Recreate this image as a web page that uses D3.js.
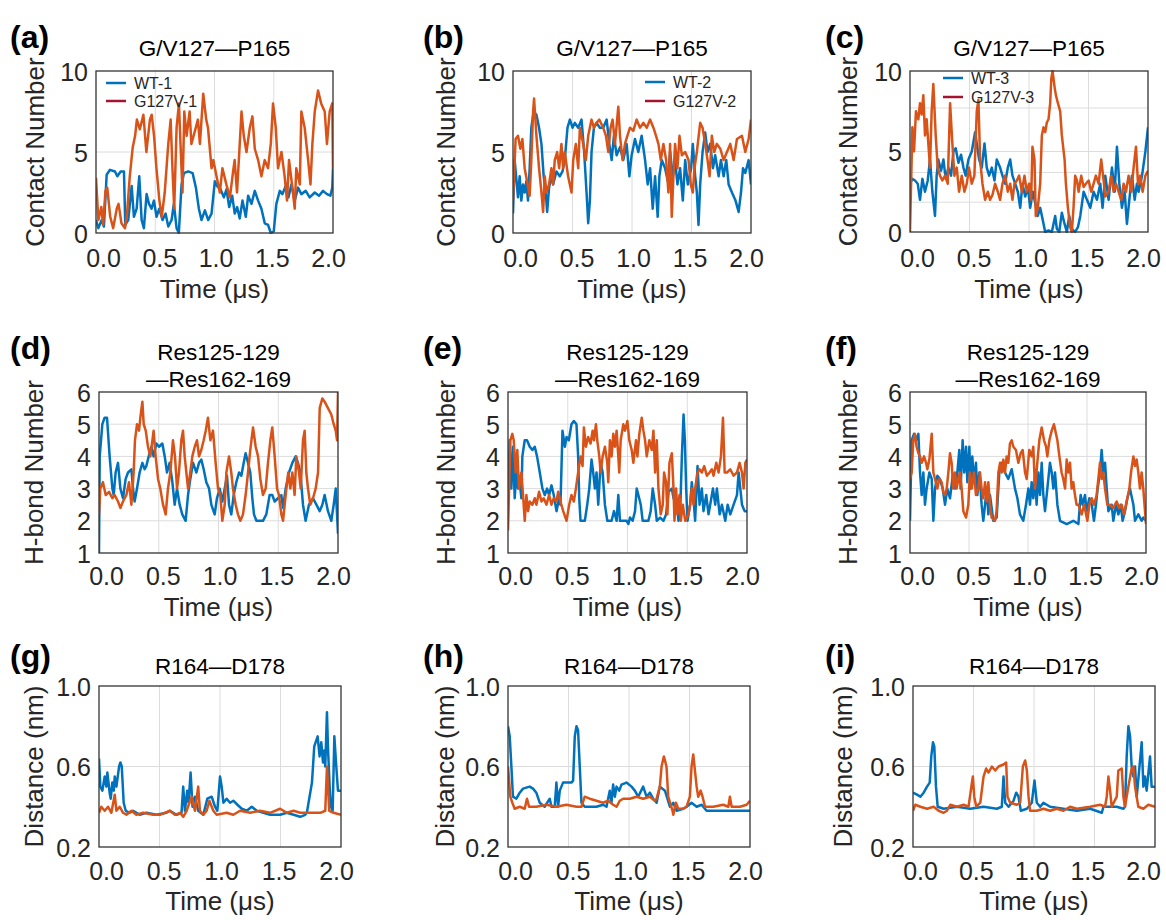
<!DOCTYPE html>
<html><head><meta charset="utf-8">
<script src="https://cdn.jsdelivr.net/npm/d3@7"></script>
<style>
body{margin:0;background:#fff}
svg{display:block}
text{font-family:"Liberation Sans",Arial,Helvetica,sans-serif}
</style>
</head><body>
<svg id="chart" width="1166" height="920"></svg>
<script>
// ---------------- DATA ----------------
const xTicks = [0, 0.5, 1.0, 1.5, 2.0];
const contactTicks = [0, 5, 10];
const hbondTicks = [1, 2, 3, 4, 5, 6];
const distTicks = [0.2, 0.6, 1.0];
const seriesNames = ["WT", "G127V"];
const legendA = ["WT-1", "G127V-1"];
const legendB = ["WT-2", "G127V-2"];
const legendC = ["WT-3", "G127V-3"];
const titleContact = ["G/V127\u2014P165"];
const titleHbond = ["Res125-129", "\u2014Res162-169"];
const titleDist = ["R164\u2014D178"];
const cExtraGrid = [7.7, 3.7, 1.85];

const a_WT = [[0,0.8],[0.020,0.3],[0.048,0.8],[0.067,0.4],[0.090,3.6],[0.118,3.9],[0.160,3.8],[0.180,3.5],[0.208,3.8],[0.236,3.8],[0.247,0.5],[0.272,0.8],[0.301,2.9],[0.320,1.0],[0.343,1.5],[0.365,3.5],[0.385,0.8],[0.404,0.3],[0.427,2.4],[0.447,1.8],[0.469,1.5],[0.489,2.0],[0.511,1.0],[0.534,1.5],[0.562,0.8],[0.587,1.2],[0.610,0.4],[0.638,0.8],[0.657,1.8],[0.680,0.3],[0.699,0.0],[0.722,3.0],[0.742,3.7],[0.778,3.8],[0.815,3.7],[0.843,2.8],[0.868,1.5],[0.890,0.8],[0.919,1.4],[0.947,0.8],[0.975,1.2],[1.003,3.2],[1.022,2.9],[1.051,2.7],[1.079,2.2],[1.101,2.7],[1.124,1.6],[1.149,2.3],[1.171,1.2],[1.191,1.6],[1.213,0.9],[1.236,2.0],[1.264,1.0],[1.284,2.3],[1.312,1.8],[1.340,2.6],[1.368,2.0],[1.396,1.5],[1.424,0.6],[1.452,0.5],[1.475,0.0],[1.500,0.1],[1.522,1.8],[1.551,2.6],[1.573,2.4],[1.601,2.9],[1.624,2.2],[1.649,3.0],[1.677,2.0],[1.705,2.8],[1.733,2.4],[1.770,2.6],[1.803,2.2],[1.846,2.5],[1.882,2.3],[1.916,2.6],[1.949,2.4],[1.978,2.3],[1.994,2.8],[2.0,4.0]];
const a_G127V = [[0,3.4],[0.02,0.8],[0.045,1.6],[0.06,0.5],[0.08,2.6],[0.095,2.8],[0.12,1.0],[0.145,0.3],[0.175,1.5],[0.19,1.8],[0.215,0.6],[0.245,0.3],[0.26,1.0],[0.285,3.5],[0.31,5.3],[0.33,6.0],[0.345,7.0],[0.37,6.4],[0.40,7.3],[0.425,5.0],[0.455,7.0],[0.47,7.3],[0.49,6.0],[0.51,4.0],[0.535,2.0],[0.555,1.0],[0.58,2.5],[0.61,5.5],[0.63,7.0],[0.645,4.0],[0.66,1.5],[0.68,6.5],[0.70,8.0],[0.713,5.5],[0.73,2.5],[0.745,7.5],[0.765,6.0],[0.79,7.5],[0.805,5.5],[0.835,6.3],[0.86,7.0],[0.877,5.5],[0.905,8.6],[0.93,7.0],[0.945,6.5],[0.975,4.0],[0.99,4.5],[1.017,3.5],[1.045,2.5],[1.067,4.0],[1.10,3.0],[1.13,2.2],[1.157,3.8],[1.17,4.5],[1.19,2.5],[1.213,5.5],[1.228,7.5],[1.247,6.0],[1.27,5.0],[1.298,6.5],[1.32,7.2],[1.34,5.2],[1.368,4.5],[1.396,3.5],[1.424,4.5],[1.452,4.0],[1.475,5.5],[1.494,8.0],[1.517,6.5],[1.536,4.0],[1.565,5.0],[1.592,3.5],[1.612,2.0],[1.629,4.5],[1.654,3.0],[1.677,1.5],[1.69,4.0],[1.72,3.0],[1.733,7.5],[1.761,6.5],[1.79,4.5],[1.81,3.0],[1.826,5.5],[1.846,7.5],[1.874,8.8],[1.90,8.0],[1.93,7.5],[1.949,5.5],[1.972,7.5],[1.994,8.0],[2.0,4.0]];

const b_WT = [[0,1.2],[0.014,4.5],[0.042,2.2],[0.056,3.5],[0.070,2.0],[0.084,3.0],[0.098,2.5],[0.112,3.2],[0.126,2.0],[0.140,4.0],[0.154,6.5],[0.174,7.5],[0.197,7.3],[0.219,6.5],[0.239,5.5],[0.258,3.5],[0.275,2.5],[0.287,1.3],[0.303,2.8],[0.323,3.5],[0.337,3.0],[0.365,3.8],[0.393,3.5],[0.416,3.8],[0.435,4.5],[0.458,6.5],[0.478,7.0],[0.500,6.5],[0.520,6.8],[0.548,6.5],[0.576,7.0],[0.598,5.0],[0.618,2.5],[0.632,0.6],[0.646,2.0],[0.660,5.0],[0.680,6.5],[0.702,6.8],[0.730,6.5],[0.758,6.5],[0.787,7.0],[0.809,5.5],[0.829,4.5],[0.848,6.0],[0.871,4.8],[0.899,5.3],[0.927,4.5],[0.955,5.5],[0.978,3.5],[0.997,4.8],[1.025,5.8],[1.053,5.0],[1.081,6.0],[1.110,4.5],[1.132,3.0],[1.152,4.0],[1.174,1.5],[1.194,3.5],[1.216,1.0],[1.230,3.5],[1.250,4.5],[1.278,4.0],[1.301,3.2],[1.320,5.0],[1.343,3.5],[1.362,4.5],[1.382,3.0],[1.404,4.0],[1.427,2.0],[1.447,4.5],[1.469,3.0],[1.497,4.0],[1.511,5.5],[1.531,3.5],[1.545,2.5],[1.559,0.5],[1.573,3.0],[1.593,5.0],[1.615,6.2],[1.635,5.0],[1.657,5.5],[1.680,4.0],[1.699,4.8],[1.728,3.5],[1.747,4.5],[1.770,3.5],[1.792,4.5],[1.812,3.0],[1.840,2.5],[1.870,2.0],[1.896,1.3],[1.916,2.5],[1.933,4.0],[1.952,3.7],[1.980,4.5],[2.0,3.0]];
const b_G127V = [[0,2.0],[0.022,5.8],[0.042,6.0],[0.062,5.2],[0.079,5.8],[0.098,4.0],[0.118,3.2],[0.140,2.3],[0.154,4.5],[0.169,7.5],[0.177,8.3],[0.197,6.0],[0.219,4.0],[0.239,2.5],[0.253,1.3],[0.267,3.5],[0.281,2.5],[0.303,3.0],[0.323,4.0],[0.337,3.0],[0.351,4.5],[0.371,5.0],[0.388,4.0],[0.407,5.5],[0.421,4.0],[0.435,5.0],[0.463,3.5],[0.492,2.5],[0.506,4.5],[0.528,5.5],[0.548,4.0],[0.562,6.5],[0.590,5.5],[0.612,4.5],[0.632,6.0],[0.660,7.0],[0.680,6.5],[0.702,6.8],[0.725,7.0],[0.758,6.5],[0.781,6.0],[0.801,5.0],[0.820,6.5],[0.837,7.0],[0.857,5.5],[0.885,7.8],[0.899,6.0],[0.921,4.5],[0.941,5.5],[0.961,6.0],[0.983,6.5],[1.011,6.3],[1.039,7.0],[1.067,6.5],[1.096,6.8],[1.124,6.5],[1.152,7.0],[1.180,6.5],[1.202,6.0],[1.222,5.5],[1.242,4.5],[1.264,5.5],[1.287,4.5],[1.306,2.5],[1.320,5.5],[1.334,1.0],[1.348,3.5],[1.362,5.5],[1.382,4.0],[1.399,6.0],[1.419,4.8],[1.447,5.0],[1.475,4.5],[1.494,3.0],[1.511,2.5],[1.525,4.0],[1.545,5.0],[1.573,6.8],[1.593,6.5],[1.615,5.5],[1.635,4.5],[1.652,3.5],[1.671,6.0],[1.691,5.0],[1.713,5.5],[1.742,5.2],[1.770,4.5],[1.798,5.0],[1.826,5.5],[1.854,4.5],[1.882,5.8],[1.924,6.0],[1.952,5.0],[1.980,5.8],[2.0,7.0]];

const c_WT = [[0,3.0],[0.020,3.3],[0.042,3.2],[0.065,3.0],[0.084,2.0],[0.104,3.3],[0.126,2.5],[0.149,3.2],[0.168,4.5],[0.188,2.5],[0.210,1.0],[0.224,3.5],[0.238,4.5],[0.261,3.8],[0.281,4.5],[0.300,3.3],[0.323,4.0],[0.345,3.5],[0.365,5.0],[0.384,5.2],[0.407,4.3],[0.429,4.8],[0.449,4.0],[0.468,3.5],[0.491,4.5],[0.519,5.0],[0.547,6.2],[0.561,5.5],[0.581,4.5],[0.603,4.0],[0.626,5.5],[0.645,4.0],[0.665,3.5],[0.687,4.0],[0.710,3.2],[0.729,4.5],[0.757,4.0],[0.777,3.5],[0.799,3.0],[0.822,4.0],[0.842,4.5],[0.861,3.5],[0.884,3.0],[0.906,2.5],[0.926,1.5],[0.945,3.0],[0.968,2.2],[0.990,2.8],[1.010,1.5],[1.032,2.5],[1.052,1.8],[1.074,1.0],[1.094,1.5],[1.114,0.8],[1.136,0.0],[1.164,0.1],[1.192,0.0],[1.220,1.0],[1.234,0.2],[1.254,0.0],[1.276,1.2],[1.299,0.5],[1.318,0.0],[1.338,1.0],[1.360,0.2],[1.388,0.0],[1.411,0.3],[1.431,1.0],[1.459,2.5],[1.487,2.0],[1.515,1.5],[1.543,2.5],[1.571,2.0],[1.599,3.0],[1.618,1.5],[1.641,3.5],[1.669,2.0],[1.697,4.0],[1.720,2.5],[1.739,5.3],[1.759,3.0],[1.781,1.5],[1.804,2.5],[1.823,0.5],[1.843,2.0],[1.865,3.5],[1.888,2.0],[1.907,3.0],[1.921,2.5],[1.950,3.5],[1.978,5.0],[2.0,6.5]];
const c_G127V = [[0,0],[0.020,6.5],[0.034,5.0],[0.050,7.5],[0.070,7.0],[0.084,8.0],[0.098,7.3],[0.112,8.5],[0.126,6.0],[0.140,7.0],[0.154,5.5],[0.168,4.0],[0.182,7.5],[0.196,9.2],[0.216,6.0],[0.233,4.0],[0.252,3.5],[0.272,3.2],[0.295,3.5],[0.317,3.0],[0.337,8.0],[0.356,5.5],[0.373,3.5],[0.393,4.0],[0.412,2.5],[0.435,3.5],[0.457,2.5],[0.477,3.0],[0.496,4.0],[0.519,3.0],[0.541,3.5],[0.561,7.5],[0.575,8.2],[0.589,4.5],[0.609,3.0],[0.631,2.0],[0.654,2.5],[0.673,2.0],[0.693,2.3],[0.715,3.0],[0.738,2.5],[0.757,2.0],[0.777,3.0],[0.799,3.5],[0.822,2.5],[0.842,3.0],[0.861,2.0],[0.878,3.0],[0.898,3.2],[0.917,3.5],[0.940,2.5],[0.962,3.5],[0.982,2.5],[1.001,3.0],[1.018,2.0],[1.029,5.3],[1.046,4.5],[1.057,1.0],[1.074,1.5],[1.094,3.0],[1.108,6.0],[1.122,6.5],[1.136,6.2],[1.150,6.8],[1.164,7.0],[1.178,8.0],[1.187,9.5],[1.198,10.0],[1.215,9.0],[1.226,8.5],[1.243,8.0],[1.262,7.5],[1.276,6.0],[1.299,4.5],[1.310,3.0],[1.327,1.5],[1.346,0.3],[1.360,0.0],[1.374,1.5],[1.388,3.5],[1.403,3.2],[1.417,2.5],[1.439,3.5],[1.459,2.8],[1.478,3.0],[1.501,3.2],[1.523,2.5],[1.543,3.0],[1.562,3.5],[1.585,3.0],[1.607,4.5],[1.627,3.2],[1.641,2.2],[1.669,2.5],[1.691,3.5],[1.711,2.5],[1.731,3.0],[1.753,2.5],[1.776,2.0],[1.795,3.0],[1.815,2.5],[1.837,3.5],[1.860,2.5],[1.879,4.0],[1.899,5.3],[1.916,3.0],[1.935,3.5],[1.955,2.5],[1.978,3.5],[2.0,3.8]];

const d_WT = [[0,1.0],[0.006,4.0],[0.028,5.0],[0.047,5.2],[0.067,5.2],[0.089,4.0],[0.112,3.0],[0.123,2.8],[0.139,3.5],[0.159,3.8],[0.179,3.0],[0.201,2.7],[0.223,3.3],[0.243,3.5],[0.271,3.6],[0.285,3.0],[0.298,2.6],[0.318,3.0],[0.340,3.5],[0.363,3.8],[0.382,3.6],[0.396,3.7],[0.416,4.0],[0.438,4.3],[0.457,4.0],[0.480,4.4],[0.502,4.3],[0.530,4.4],[0.550,4.0],[0.569,3.5],[0.591,3.8],[0.614,3.2],[0.633,2.5],[0.653,3.0],[0.675,2.5],[0.697,2.2],[0.725,2.0],[0.745,2.8],[0.764,3.3],[0.787,3.8],[0.815,3.5],[0.837,3.8],[0.856,3.9],[0.876,3.6],[0.898,3.2],[0.921,3.0],[0.940,2.5],[0.968,2.2],[0.987,2.7],[1.010,3.0],[1.032,2.6],[1.052,3.0],[1.071,3.4],[1.088,2.5],[1.107,2.2],[1.127,2.8],[1.149,3.2],[1.172,3.5],[1.191,3.4],[1.211,3.8],[1.227,4.1],[1.247,3.8],[1.266,3.5],[1.283,2.7],[1.297,2.2],[1.317,2.0],[1.372,2.0],[1.400,2.2],[1.428,2.8],[1.450,2.8],[1.470,2.6],[1.498,2.7],[1.526,2.8],[1.540,2.4],[1.562,3.0],[1.590,3.5],[1.618,3.8],[1.646,4.0],[1.665,3.8],[1.685,3.5],[1.707,2.5],[1.729,2.0],[1.757,2.5],[1.791,2.7],[1.819,2.5],[1.847,2.3],[1.869,2.5],[1.888,2.8],[1.916,2.3],[1.944,2.0],[1.964,2.5],[1.981,3.0],[2.0,1.6]];
const d_G127V = [[0,2.2],[0.011,3.0],[0.033,3.2],[0.056,2.8],[0.084,2.9],[0.112,2.7],[0.131,2.8],[0.159,2.6],[0.179,2.4],[0.201,2.6],[0.229,2.8],[0.251,3.2],[0.271,2.5],[0.290,3.5],[0.301,4.5],[0.318,5.0],[0.335,4.8],[0.346,5.2],[0.363,5.7],[0.374,5.0],[0.391,4.8],[0.410,4.3],[0.430,4.0],[0.457,4.8],[0.474,4.0],[0.494,3.3],[0.513,3.0],[0.536,2.5],[0.558,2.2],[0.577,3.0],[0.597,3.5],[0.619,4.5],[0.636,4.0],[0.653,3.0],[0.669,3.5],[0.689,4.5],[0.703,4.8],[0.717,4.0],[0.731,3.5],[0.745,3.0],[0.764,3.5],[0.781,4.0],[0.801,4.3],[0.820,4.5],[0.837,4.0],[0.856,4.2],[0.876,4.5],[0.893,4.8],[0.912,5.2],[0.932,4.5],[0.954,4.8],[0.976,3.8],[0.996,3.0],[1.015,2.8],[1.032,2.0],[1.052,2.5],[1.066,3.5],[1.088,4.0],[1.107,3.5],[1.121,3.0],[1.144,2.5],[1.163,2.2],[1.183,2.0],[1.205,2.2],[1.227,2.8],[1.247,3.5],[1.266,4.2],[1.289,4.9],[1.311,4.3],[1.331,4.0],[1.350,3.3],[1.372,2.8],[1.395,3.0],[1.414,3.8],[1.434,4.5],[1.450,4.9],[1.470,4.0],[1.490,3.0],[1.506,2.8],[1.526,2.2],[1.540,2.0],[1.554,2.5],[1.568,3.0],[1.584,3.5],[1.601,3.0],[1.618,3.5],[1.637,2.8],[1.651,4.0],[1.674,3.5],[1.688,3.0],[1.707,4.5],[1.721,4.8],[1.735,3.5],[1.749,3.0],[1.768,2.5],[1.791,2.7],[1.813,3.0],[1.833,3.5],[1.847,5.5],[1.869,5.8],[1.888,5.7],[1.916,5.5],[1.944,5.3],[1.964,5.0],[1.981,4.8],[1.992,4.5],[2.0,6.0]];

const e_WT = [[0,2.5],[0.014,4.5],[0.028,3.0],[0.042,4.3],[0.056,2.7],[0.070,3.5],[0.084,3.0],[0.098,3.2],[0.112,2.7],[0.120,4.0],[0.140,4.5],[0.159,4.5],[0.182,4.3],[0.204,4.2],[0.224,4.3],[0.243,4.0],[0.266,3.5],[0.288,3.0],[0.308,2.8],[0.327,3.0],[0.344,2.8],[0.364,3.1],[0.383,2.8],[0.406,2.3],[0.428,2.7],[0.439,2.5],[0.456,4.8],[0.476,4.3],[0.490,4.6],[0.509,4.5],[0.531,5.0],[0.551,5.1],[0.573,5.0],[0.587,4.0],[0.596,2.7],[0.607,2.0],[0.643,2.0],[0.663,2.5],[0.680,3.0],[0.699,3.9],[0.713,3.5],[0.727,3.0],[0.741,3.5],[0.755,2.5],[0.775,3.8],[0.792,3.5],[0.811,2.5],[0.831,2.0],[0.867,2.0],[0.887,2.3],[0.909,2.0],[0.923,2.8],[0.937,2.0],[0.993,2.0],[1.007,1.9],[1.021,2.1],[1.043,2.0],[1.063,2.3],[1.077,3.0],[1.091,2.8],[1.111,2.5],[1.127,2.0],[1.175,2.0],[1.194,2.3],[1.211,3.0],[1.231,2.5],[1.245,2.0],[1.273,2.1],[1.301,2.0],[1.323,2.2],[1.343,2.9],[1.371,3.0],[1.385,2.7],[1.413,2.5],[1.427,2.0],[1.441,2.3],[1.455,4.0],[1.469,5.3],[1.480,4.5],[1.491,3.0],[1.502,2.0],[1.524,2.5],[1.538,3.2],[1.552,2.7],[1.566,2.0],[1.586,3.7],[1.603,2.5],[1.622,3.0],[1.636,2.3],[1.659,2.8],[1.678,2.2],[1.692,2.5],[1.715,3.0],[1.734,2.5],[1.748,3.0],[1.771,2.2],[1.790,2.5],[1.818,2.0],[1.838,2.5],[1.860,2.2],[1.888,2.5],[1.916,2.8],[1.930,3.5],[1.958,2.5],[1.980,2.3],[2.0,2.3]];
const e_G127V = [[0,1.7],[0.020,4.5],[0.036,4.7],[0.048,4.5],[0.064,3.5],[0.078,4.2],[0.092,3.0],[0.112,3.5],[0.126,2.8],[0.140,2.0],[0.154,2.8],[0.168,2.3],[0.182,2.6],[0.204,2.5],[0.224,2.7],[0.238,2.5],[0.260,2.9],[0.280,2.6],[0.299,2.7],[0.322,2.5],[0.344,2.8],[0.364,2.5],[0.383,2.7],[0.406,2.6],[0.420,2.9],[0.439,2.6],[0.462,2.3],[0.490,2.0],[0.512,2.5],[0.531,2.8],[0.551,2.6],[0.568,3.0],[0.587,3.5],[0.607,4.0],[0.624,3.7],[0.635,4.9],[0.652,4.3],[0.671,4.6],[0.691,4.4],[0.708,4.8],[0.719,4.5],[0.736,5.0],[0.747,4.5],[0.764,4.0],[0.775,3.5],[0.792,4.0],[0.811,4.3],[0.831,3.8],[0.839,3.2],[0.853,4.5],[0.867,4.0],[0.881,4.7],[0.895,4.3],[0.909,4.8],[0.923,4.0],[0.931,3.5],[0.943,4.5],[0.965,5.0],[0.979,4.8],[0.999,5.1],[1.015,4.5],[1.035,4.2],[1.049,3.8],[1.071,4.5],[1.083,4.0],[1.099,4.7],[1.119,5.2],[1.133,4.8],[1.147,4.5],[1.161,4.0],[1.183,4.5],[1.203,4.2],[1.217,4.8],[1.231,3.5],[1.245,4.5],[1.259,3.0],[1.278,2.2],[1.295,2.5],[1.306,3.5],[1.323,3.2],[1.334,2.2],[1.351,3.8],[1.371,4.1],[1.385,3.0],[1.393,2.0],[1.407,3.0],[1.418,2.2],[1.435,2.8],[1.446,2.0],[1.463,2.5],[1.483,2.0],[1.510,2.2],[1.524,2.5],[1.538,3.0],[1.552,2.5],[1.566,3.0],[1.586,3.5],[1.603,3.6],[1.622,3.5],[1.642,3.7],[1.664,3.4],[1.687,3.5],[1.706,3.6],[1.720,3.4],[1.743,3.8],[1.762,3.5],[1.782,4.0],[1.799,5.2],[1.813,3.5],[1.832,3.5],[1.860,3.6],[1.888,3.4],[1.916,3.5],[1.938,3.8],[1.958,3.5],[1.972,3.0],[1.986,3.8],[2.0,3.9]];

const f_WT = [[0,2.0],[0.014,4.5],[0.034,4.7],[0.051,4.5],[0.071,4.7],[0.085,3.5],[0.099,2.8],[0.113,3.5],[0.127,2.5],[0.141,3.0],[0.164,3.5],[0.184,3.3],[0.198,2.0],[0.212,3.0],[0.232,3.4],[0.254,3.3],[0.277,3.0],[0.297,2.5],[0.316,3.0],[0.339,2.7],[0.362,3.4],[0.381,3.0],[0.401,3.5],[0.418,4.2],[0.429,3.0],[0.446,4.5],[0.460,3.5],[0.475,4.3],[0.486,3.2],[0.503,4.3],[0.514,3.0],[0.528,4.0],[0.542,3.2],[0.559,3.8],[0.571,2.8],[0.588,3.5],[0.607,2.5],[0.621,2.0],[0.636,2.5],[0.650,3.0],[0.664,2.2],[0.678,2.8],[0.706,2.0],[0.734,2.1],[0.757,3.5],[0.777,3.8],[0.805,3.5],[0.833,3.3],[0.862,3.6],[0.890,3.0],[0.910,2.7],[0.932,2.2],[0.960,2.0],[0.983,2.5],[1.003,3.0],[1.017,2.5],[1.031,3.2],[1.045,2.7],[1.059,3.4],[1.073,2.5],[1.088,3.5],[1.102,2.8],[1.116,3.8],[1.130,2.8],[1.144,2.3],[1.164,3.0],[1.186,3.8],[1.201,3.5],[1.215,3.0],[1.229,3.5],[1.249,2.5],[1.271,2.0],[1.328,1.9],[1.384,2.0],[1.427,1.9],[1.446,2.8],[1.463,2.5],[1.483,2.8],[1.497,2.3],[1.520,2.7],[1.540,2.5],[1.559,2.0],[1.576,2.5],[1.590,3.0],[1.610,3.5],[1.624,4.2],[1.638,3.5],[1.653,3.8],[1.667,3.0],[1.681,2.3],[1.709,2.5],[1.723,2.0],[1.746,2.5],[1.766,2.2],[1.785,2.5],[1.802,2.0],[1.822,2.3],[1.842,2.7],[1.864,3.0],[1.893,2.5],[1.907,2.0],[1.935,2.2],[1.963,2.0],[1.977,2.1],[2.0,2.0]];
const f_G127V = [[0,3.3],[0.014,3.5],[0.028,4.5],[0.042,4.7],[0.056,4.3],[0.071,4.1],[0.085,4.0],[0.099,3.8],[0.119,4.0],[0.136,3.8],[0.147,3.6],[0.164,3.9],[0.184,4.7],[0.198,3.5],[0.212,3.3],[0.232,3.0],[0.249,3.3],[0.268,3.2],[0.282,2.9],[0.297,2.8],[0.311,3.0],[0.325,3.5],[0.339,4.1],[0.353,3.8],[0.367,3.0],[0.381,3.5],[0.395,3.0],[0.410,3.3],[0.424,3.5],[0.438,3.0],[0.452,2.3],[0.475,2.1],[0.494,2.5],[0.508,3.5],[0.523,3.0],[0.542,3.5],[0.559,2.8],[0.579,3.0],[0.593,3.5],[0.607,3.0],[0.621,2.7],[0.636,3.2],[0.650,2.6],[0.664,3.2],[0.678,2.5],[0.692,2.1],[0.720,2.0],[0.734,2.3],[0.749,3.5],[0.763,3.8],[0.777,3.5],[0.791,3.9],[0.805,3.5],[0.819,4.0],[0.833,3.8],[0.847,4.4],[0.862,4.5],[0.876,4.3],[0.898,4.2],[0.918,3.8],[0.938,4.1],[0.955,4.2],[0.975,3.5],[0.989,3.3],[1.011,4.2],[1.031,4.0],[1.045,4.3],[1.059,3.0],[1.079,3.8],[1.096,4.5],[1.116,4.9],[1.136,4.5],[1.153,4.3],[1.164,4.0],[1.181,4.5],[1.201,4.8],[1.220,5.0],[1.237,4.7],[1.249,4.5],[1.266,4.0],[1.285,3.5],[1.299,3.3],[1.314,3.0],[1.328,3.9],[1.342,3.5],[1.356,3.8],[1.370,3.0],[1.384,3.2],[1.398,2.8],[1.412,2.5],[1.427,2.5],[1.455,2.2],[1.475,2.5],[1.492,2.2],[1.503,2.0],[1.520,2.5],[1.540,2.7],[1.559,2.5],[1.582,2.8],[1.596,3.3],[1.610,3.8],[1.624,3.3],[1.638,3.5],[1.653,3.0],[1.672,2.5],[1.695,2.5],[1.723,2.4],[1.751,2.6],[1.774,2.4],[1.794,2.5],[1.814,2.2],[1.836,2.6],[1.859,3.0],[1.873,3.5],[1.893,4.0],[1.907,3.7],[1.921,3.9],[1.935,3.5],[1.949,3.0],[1.963,3.5],[1.977,3.0],[2.0,1.9]];

const g_WT = [[0,0.64],[0.011,0.50],[0.028,0.48],[0.047,0.55],[0.061,0.50],[0.069,0.57],[0.088,0.47],[0.097,0.44],[0.110,0.52],[0.122,0.48],[0.130,0.55],[0.144,0.50],[0.166,0.60],[0.177,0.62],[0.188,0.60],[0.204,0.42],[0.221,0.38],[0.254,0.37],[0.282,0.38],[0.337,0.36],[0.392,0.37],[0.475,0.36],[0.558,0.37],[0.586,0.38],[0.641,0.36],[0.682,0.37],[0.696,0.50],[0.710,0.38],[0.729,0.48],[0.740,0.42],[0.757,0.57],[0.773,0.40],[0.793,0.45],[0.820,0.38],[0.862,0.36],[0.895,0.44],[0.931,0.45],[0.959,0.40],[0.978,0.38],[1.000,0.55],[1.014,0.50],[1.028,0.42],[1.055,0.44],[1.083,0.42],[1.110,0.43],[1.144,0.41],[1.180,0.39],[1.221,0.38],[1.262,0.40],[1.304,0.38],[1.359,0.37],[1.414,0.36],[1.497,0.36],[1.552,0.37],[1.608,0.36],[1.663,0.35],[1.704,0.36],[1.718,0.37],[1.740,0.45],[1.760,0.52],[1.779,0.70],[1.807,0.75],[1.823,0.65],[1.837,0.72],[1.851,0.62],[1.862,0.68],[1.870,0.60],[1.884,0.87],[1.892,0.70],[1.906,0.50],[1.917,0.40],[1.931,0.38],[1.945,0.75],[1.961,0.60],[1.975,0.48],[2.0,0.48]];
const g_G127V = [[0,0.37],[0.019,0.40],[0.047,0.38],[0.075,0.40],[0.102,0.37],[0.130,0.46],[0.144,0.38],[0.171,0.40],[0.199,0.37],[0.227,0.36],[0.268,0.38],[0.309,0.36],[0.365,0.37],[0.448,0.36],[0.503,0.36],[0.586,0.38],[0.627,0.36],[0.669,0.37],[0.696,0.35],[0.724,0.38],[0.765,0.45],[0.793,0.38],[0.820,0.50],[0.834,0.38],[0.862,0.36],[0.890,0.38],[0.912,0.43],[0.945,0.38],[0.972,0.36],[1.055,0.37],[1.110,0.36],[1.166,0.38],[1.249,0.37],[1.331,0.38],[1.414,0.37],[1.497,0.39],[1.552,0.37],[1.608,0.38],[1.663,0.37],[1.746,0.37],[1.829,0.37],[1.870,0.38],[1.884,0.60],[1.903,0.38],[1.939,0.37],[2.0,0.36]];

const h_WT = [[0,0.80],[0.014,0.75],[0.028,0.60],[0.041,0.45],[0.069,0.44],[0.097,0.47],[0.124,0.49],[0.179,0.50],[0.207,0.49],[0.234,0.47],[0.262,0.42],[0.303,0.40],[0.345,0.44],[0.359,0.40],[0.386,0.40],[0.400,0.52],[0.414,0.40],[0.428,0.48],[0.455,0.52],[0.524,0.52],[0.538,0.53],[0.552,0.75],[0.566,0.80],[0.579,0.78],[0.593,0.60],[0.607,0.42],[0.634,0.40],[0.731,0.40],[0.786,0.41],[0.814,0.40],[0.841,0.48],[0.855,0.42],[0.869,0.51],[0.883,0.45],[0.897,0.50],[0.919,0.48],[0.938,0.51],[0.979,0.52],[1.021,0.50],[1.048,0.48],[1.076,0.45],[1.117,0.50],[1.145,0.45],[1.172,0.47],[1.200,0.44],[1.228,0.42],[1.255,0.50],[1.297,0.48],[1.338,0.40],[1.366,0.42],[1.393,0.38],[1.448,0.39],[1.476,0.40],[1.517,0.42],[1.559,0.40],[1.600,0.41],[1.641,0.38],[1.779,0.38],[1.917,0.38],[2.0,0.38]];
const h_G127V = [[0,0.60],[0.019,0.45],[0.036,0.42],[0.055,0.39],[0.097,0.40],[0.138,0.39],[0.157,0.44],[0.174,0.40],[0.234,0.40],[0.317,0.41],[0.400,0.40],[0.483,0.41],[0.566,0.40],[0.607,0.40],[0.634,0.45],[0.676,0.44],[0.731,0.43],[0.786,0.42],[0.828,0.43],[0.869,0.41],[0.897,0.40],[0.924,0.43],[0.952,0.44],[1.007,0.44],[1.062,0.45],[1.117,0.44],[1.172,0.45],[1.214,0.43],[1.228,0.44],[1.255,0.50],[1.269,0.60],[1.288,0.65],[1.310,0.60],[1.324,0.45],[1.360,0.38],[1.366,0.36],[1.388,0.42],[1.407,0.39],[1.448,0.39],[1.476,0.40],[1.503,0.45],[1.517,0.60],[1.531,0.66],[1.545,0.58],[1.559,0.50],[1.572,0.45],[1.592,0.48],[1.608,0.45],[1.628,0.40],[1.697,0.40],[1.779,0.41],[1.821,0.40],[1.834,0.45],[1.848,0.40],[1.917,0.40],[1.972,0.41],[2.0,0.43]];

const i_WT = [[0,0.47],[0.033,0.46],[0.061,0.45],[0.088,0.47],[0.116,0.50],[0.138,0.52],[0.151,0.65],[0.165,0.72],[0.176,0.70],[0.190,0.50],[0.204,0.40],[0.253,0.39],[0.363,0.40],[0.473,0.39],[0.583,0.40],[0.693,0.39],[0.734,0.40],[0.748,0.55],[0.762,0.42],[0.790,0.40],[0.831,0.43],[0.853,0.47],[0.872,0.45],[0.891,0.38],[0.941,0.39],[0.982,0.42],[1.004,0.53],[1.023,0.42],[1.051,0.40],[1.078,0.42],[1.133,0.40],[1.243,0.39],[1.354,0.38],[1.464,0.39],[1.560,0.37],[1.574,0.40],[1.684,0.40],[1.739,0.39],[1.752,0.40],[1.766,0.65],[1.780,0.80],[1.794,0.75],[1.807,0.60],[1.821,0.55],[1.835,0.60],[1.849,0.45],[1.890,0.72],[1.904,0.50],[1.917,0.55],[1.931,0.48],[1.959,0.65],[1.972,0.50],[2.0,0.50]];
const i_G127V = [[0,0.38],[0.019,0.41],[0.061,0.40],[0.116,0.39],[0.171,0.40],[0.212,0.38],[0.253,0.37],[0.281,0.38],[0.308,0.41],[0.363,0.40],[0.418,0.41],[0.459,0.40],[0.487,0.52],[0.495,0.55],[0.506,0.45],[0.523,0.40],[0.556,0.42],[0.583,0.55],[0.605,0.59],[0.624,0.57],[0.652,0.60],[0.680,0.58],[0.707,0.60],[0.748,0.61],[0.770,0.62],[0.781,0.45],[0.803,0.42],[0.858,0.41],[0.886,0.42],[0.908,0.60],[0.927,0.63],[0.941,0.58],[0.955,0.45],[0.968,0.38],[1.023,0.38],[1.078,0.39],[1.133,0.38],[1.188,0.39],[1.243,0.38],[1.298,0.40],[1.354,0.39],[1.464,0.40],[1.546,0.41],[1.587,0.40],[1.601,0.45],[1.615,0.55],[1.629,0.48],[1.642,0.40],[1.684,0.45],[1.697,0.58],[1.725,0.59],[1.739,0.45],[1.752,0.40],[1.780,0.50],[1.807,0.59],[1.821,0.60],[1.835,0.50],[1.862,0.40],[1.904,0.39],[1.945,0.41],[2.0,0.40]];

// ---------------- LAYOUT / STYLE ----------------
const COL_WT = "#0072BD", COL_MUT = "#D95319", COL_LEG_MUT = "#A2142F";
const FONT_TICK = 25, FONT_AXIS = 26, FONT_TITLE = 22.5, FONT_LETTER = 32, FONT_LEG = 16;
const rows = [
  {letterY: 48, titleY: [56], tickY: 267, xTitleY: 298},
  {letterY: 359, titleY: [360, 387], tickY: 585, xTitleY: 616},
  {letterY: 667, titleY: [674], tickY: 880, xTitleY: 910}
];
const panels = [
  {letter:"(a)", row:0, box:[96,71,333,233], lx:10, ytx:35, title:titleContact, ylab:"Contact Number", yd:[0,10], yt:contactTicks, fmt:d3.format("d"), grid:[5], wt:a_WT, mut:a_G127V, legend:legendA, leg:{x:106, y:[83,101]}},
  {letter:"(b)", row:0, box:[513,71,751,233], lx:423, ytx:446, title:titleContact, ylab:"Contact Number", yd:[0,10], yt:contactTicks, fmt:d3.format("d"), grid:[5], wt:b_WT, mut:b_G127V, legend:legendB, leg:{x:645, y:[82,101]}},
  {letter:"(c)", row:0, box:[910,71,1148,232], lx:825, ytx:848, title:titleContact, ylab:"Contact Number", yd:[0,10], yt:contactTicks, fmt:d3.format("d"), grid:[5].concat(cExtraGrid), wt:c_WT, mut:c_G127V, legend:legendC, leg:{x:943, y:[78,97]}},
  {letter:"(d)", row:1, box:[99,392,338,553], lx:10, ytx:34, title:titleHbond, ylab:"H-bond Number", yd:[1,6], yt:hbondTicks, fmt:d3.format("d"), grid:[2,3,4,5], wt:d_WT, mut:d_G127V},
  {letter:"(e)", row:1, box:[508,392,747,553], lx:423, ytx:446, title:titleHbond, ylab:"H-bond Number", yd:[1,6], yt:hbondTicks, fmt:d3.format("d"), grid:[2,3,4,5], wt:e_WT, mut:e_G127V},
  {letter:"(f)", row:1, box:[910,392,1146,553], lx:825, ytx:848, title:titleHbond, ylab:"H-bond Number", yd:[1,6], yt:hbondTicks, fmt:d3.format("d"), grid:[2,3,4,5], wt:f_WT, mut:f_G127V},
  {letter:"(g)", row:2, box:[99,686,341,847], lx:10, ytx:34, title:titleDist, ylab:"Distance (nm)", yd:[0.2,1.0], yt:distTicks, fmt:d3.format(".1f"), grid:[0.6], wt:g_WT, mut:g_G127V},
  {letter:"(h)", row:2, box:[508,686,750,847], lx:423, ytx:445, title:titleDist, ylab:"Distance (nm)", yd:[0.2,1.0], yt:distTicks, fmt:d3.format(".1f"), grid:[0.6], wt:h_WT, mut:h_G127V},
  {letter:"(i)", row:2, box:[913,686,1155,847], lx:825, ytx:843, title:titleDist, ylab:"Distance (nm)", yd:[0.2,1.0], yt:distTicks, fmt:d3.format(".1f"), grid:[0.6], wt:i_WT, mut:i_G127V}
];

const svg = d3.select("#chart");
svg.append("rect").attr("width",1166).attr("height",920).attr("fill","#fff");
const defs = svg.append("defs");

panels.forEach((p, k) => {
  const [L, T, R, B] = p.box;
  const row = rows[p.row];
  const x = d3.scaleLinear().domain([0, 2]).range([L, R]);
  const xl = d3.scaleLinear().domain([0, 2]).range([L + 7, Math.min(R - 5, 1143)]);
  const y = d3.scaleLinear().domain(p.yd).range([B, T]);
  const g = svg.append("g");

  // grid
  g.selectAll(".vg").data(xTicks.slice(1, -1)).join("line")
    .attr("x1", d => x(d)).attr("x2", d => x(d)).attr("y1", T).attr("y2", B)
    .attr("stroke", "#dcdcdc").attr("stroke-width", 1);
  g.selectAll(".hg").data(p.grid).join("line")
    .attr("x1", L).attr("x2", R).attr("y1", d => y(d)).attr("y2", d => y(d))
    .attr("stroke", "#dcdcdc").attr("stroke-width", 1);

  // clip
  const cid = "clip" + k;
  defs.append("clipPath").attr("id", cid).append("rect")
    .attr("x", L).attr("y", T - 1).attr("width", R - L).attr("height", B - T + 2);

  const line = d3.line().x(d => x(d[0])).y(d => y(d[1]));
  const lg = g.append("g").attr("clip-path", `url(#${cid})`);
  lg.append("path").datum(p.wt).attr("d", line).attr("fill", "none")
    .attr("stroke", COL_WT).attr("stroke-width", 2.5).attr("stroke-linejoin", "round");
  lg.append("path").datum(p.mut).attr("d", line).attr("fill", "none")
    .attr("stroke", COL_MUT).attr("stroke-width", 2.5).attr("stroke-linejoin", "round");

  // box
  g.append("rect").attr("x", L).attr("y", T).attr("width", R - L).attr("height", B - T)
    .attr("fill", "none").attr("stroke", "#333").attr("stroke-width", 1.3);

  // x axis labels
  const gx = g.append("g").attr("transform", `translate(0,${row.tickY})`)
    .call(d3.axisBottom(xl).tickValues(xTicks).tickFormat(d3.format(".1f")).tickSize(0));
  gx.select(".domain").remove();
  gx.selectAll("text").attr("y", 0).attr("dy", 0)
    .style("font-size", FONT_TICK + "px").attr("fill", "#262626");

  // y axis labels
  const gy = g.append("g").attr("transform", `translate(${L - 8},0)`)
    .call(d3.axisLeft(y).tickValues(p.yt).tickFormat(p.fmt).tickSize(0));
  gy.select(".domain").remove();
  gy.selectAll("text").attr("x", 0).attr("dy", "0.36em")
    .style("font-size", FONT_TICK + "px").attr("fill", "#262626");

  // axis titles
  g.append("text").attr("x", (L + R) / 2).attr("y", row.xTitleY)
    .attr("text-anchor", "middle").style("font-size", FONT_AXIS + "px").attr("fill", "#262626")
    .text("Time (\u03bcs)");
  g.append("text").attr("transform", `translate(${p.ytx},${(T + B) / 2}) rotate(-90)`)
    .attr("text-anchor", "middle").attr("dy", "0.36em")
    .style("font-size", FONT_AXIS + "px").attr("fill", "#262626").text(p.ylab);

  // title
  p.title.forEach((t, j) => {
    g.append("text").attr("x", (L + R) / 2).attr("y", row.titleY[j])
      .attr("text-anchor", "middle").style("font-size", FONT_TITLE + "px").attr("fill", "#000").text(t);
  });

  // panel letter
  g.append("text").attr("x", p.lx).attr("y", row.letterY)
    .style("font-size", FONT_LETTER + "px").style("font-weight", "bold").attr("fill", "#000").text(p.letter);

  // legend
  if (p.legend) {
    const cols = [COL_WT, COL_LEG_MUT];
    p.legend.forEach((name, j) => {
      const ly = p.leg.y[j];
      g.append("line").attr("x1", p.leg.x).attr("x2", p.leg.x + 20).attr("y1", ly).attr("y2", ly)
        .attr("stroke", cols[j]).attr("stroke-width", 2.5);
      g.append("text").attr("x", p.leg.x + 28).attr("y", ly).attr("dy", "0.35em")
        .style("font-size", FONT_LEG + "px").attr("fill", "#262626").text(name);
    });
  }
});
</script>
</body></html>
